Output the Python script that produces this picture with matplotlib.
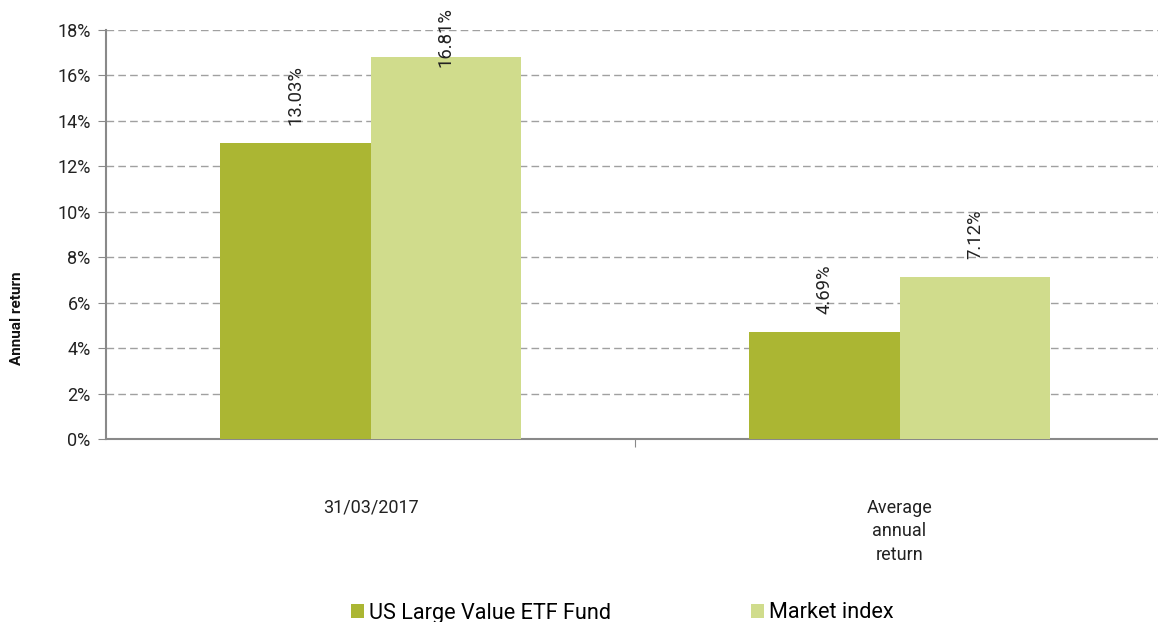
import matplotlib
matplotlib.use("Agg")
import matplotlib.pyplot as plt
from matplotlib.ticker import FixedLocator, FuncFormatter
import numpy as np

categories = ["31/03/2017", "Average\nannual\nreturn"]
series_names = ["US Large Value ETF Fund", "Market index"]
fund = [13.03, 4.69]
market = [16.81, 7.12]
yticks = [0, 2, 4, 6, 8, 10, 12, 14, 16, 18]
colors = ["#ABB633", "#D0DC8C"]

plt.rcParams['font.family'] = ['Roboto', 'DejaVu Sans']

fig = plt.figure(figsize=(11.58, 6.22), dpi=100)
ax = fig.add_axes([106/1158, 1-439/622, 1058/1158, (439-30)/622])

x = np.arange(len(categories))
w = 0.285
b1 = ax.bar(x - w/2, fund, w, color=colors[0], label=series_names[0], zorder=3)
b2 = ax.bar(x + w/2, market, w, color=colors[1], label=series_names[1], zorder=3)

top_limit = 16.37
for bars, vals in ((b1, fund), (b2, market)):
    for rect, v in zip(bars, vals):
        yb = min(v + 0.8, top_limit)
        ax.text(rect.get_x() + rect.get_width()/2, yb, f"{v:.2f}%", rotation=90,
                ha="center", va="bottom", fontsize=13.3, color="#222222", zorder=4,
                clip_on=False)

ax.set_xlim(-0.5, 1.5)
ax.set_ylim(0, 18)
ax.set_yticks(yticks)
ax.yaxis.set_major_formatter(FuncFormatter(lambda v, p: f"{v:.0f}%"))
ax.tick_params(axis='y', length=6, color="#898989", labelsize=13, pad=5, labelcolor="#222222")
ax.yaxis.grid(True, linestyle=(0, (5.5, 3)), color="#A0A0A0", linewidth=1, zorder=0)

ax.xaxis.set_major_locator(FixedLocator([0.5]))
ax.xaxis.set_major_formatter(FuncFormatter(lambda v, p: ""))
ax.tick_params(axis='x', which='major', length=6, color="#898989")
ax.xaxis.set_minor_locator(FixedLocator(list(x)))
ax.xaxis.set_minor_formatter(FuncFormatter(lambda v, p: categories[int(round(v))]))
ax.tick_params(axis='x', which='minor', length=0, pad=43, labelsize=13, labelcolor="#222222")
for lbl in ax.xaxis.get_minorticklabels():
    lbl.set_linespacing(1.4)

for s in ["top", "right"]:
    ax.spines[s].set_visible(False)
for s in ["left", "bottom"]:
    ax.spines[s].set_color("#898989")
    ax.spines[s].set_linewidth(1.5)

fig.text(17/1158, 1-318/622, "Annual return", rotation=90, ha="center", va="center",
         fontsize=11, fontweight="bold", color="#111111")

fig.legend(handles=[b1, b2], loc="center", bbox_to_anchor=(622.5/1158, 1-613/622), ncol=2,
           frameon=False, fontsize=15.6, handlelength=0.6, handleheight=0.6,
           handletextpad=0.25, columnspacing=6.45)

fig.savefig("out.png", dpi=100)
